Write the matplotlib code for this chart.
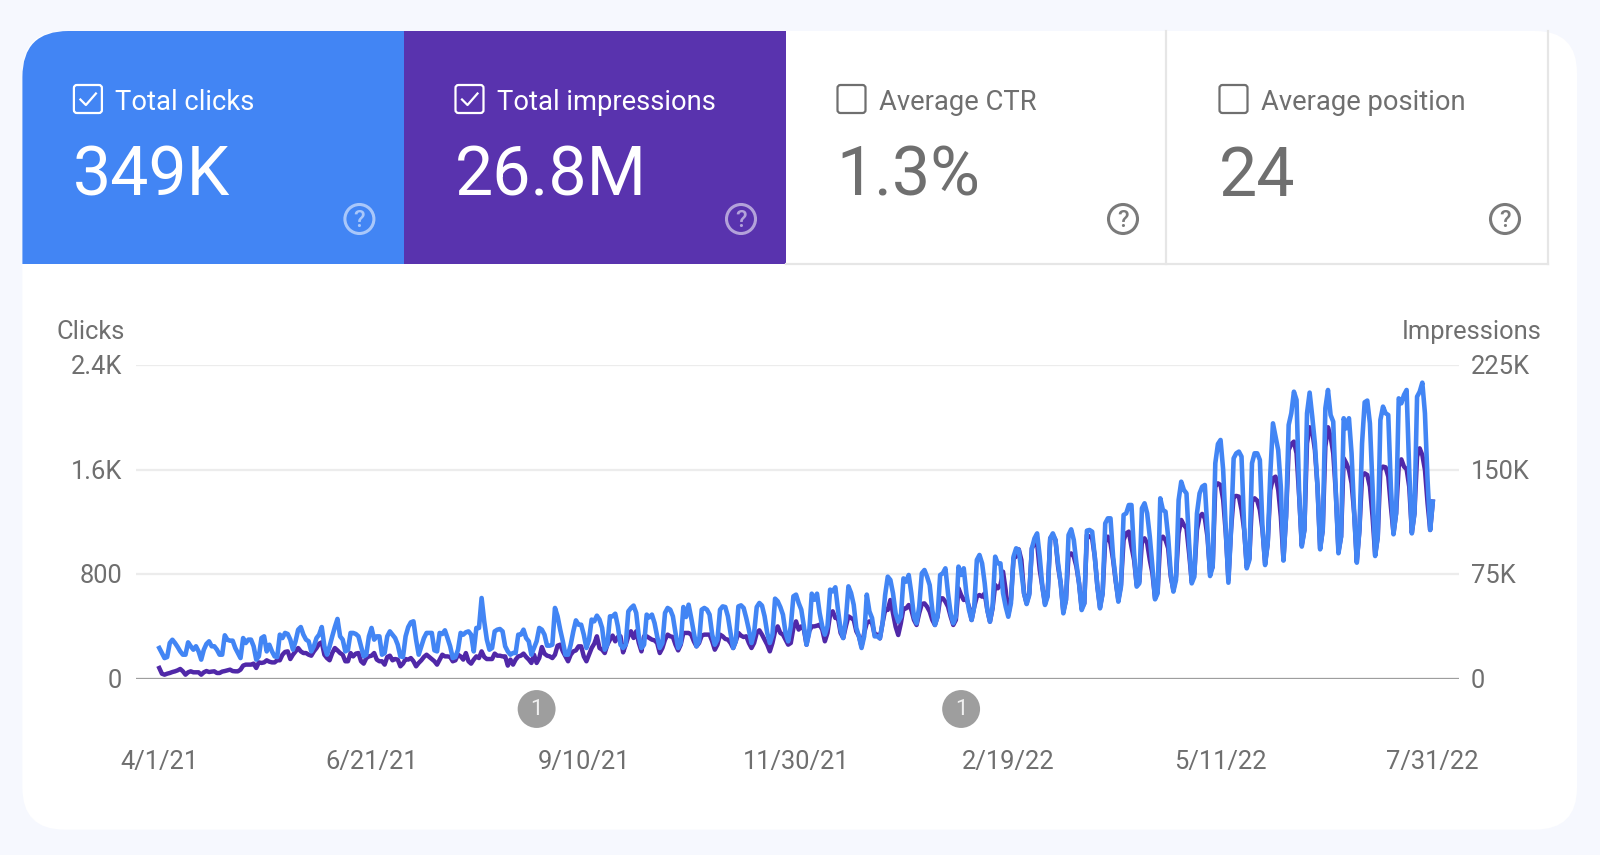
import matplotlib
matplotlib.use('Agg')
import matplotlib.pyplot as plt
import matplotlib.dates as mdates
import pandas as pd
from matplotlib.patches import Circle, FancyBboxPatch, PathPatch, Rectangle
from matplotlib.path import Path

plt.rcParams['font.family'] = ['Roboto', 'DejaVu Sans']

# values, one day each from 4/1/21
clicks = [
    237, 199, 160, 168, 275, 300, 275, 245, 211, 186, 186, 280, 250, 224, 250, 211, 148, 224, 268, 288,
    250, 250, 224, 186, 186, 334, 300, 293, 293, 237, 199, 160, 313, 275, 301, 301, 250, 148, 173, 313,
    326, 211, 262, 211, 173, 168, 339, 313, 352, 344, 301, 224, 288, 377, 397, 339, 301, 288, 211, 250,
    313, 339, 397, 250, 186, 250, 326, 397, 459, 326, 301, 211, 224, 352, 352, 344, 326, 250, 173, 186,
    326, 390, 301, 326, 326, 186, 199, 326, 364, 339, 313, 262, 173, 168, 326, 397, 433, 441, 301, 186,
    250, 313, 352, 352, 352, 219, 211, 352, 344, 372, 313, 250, 160, 168, 224, 352, 339, 357, 364, 339,
    211, 390, 390, 619, 441, 301, 224, 237, 364, 377, 382, 364, 250, 211, 186,
    199, 199, 339, 339, 377, 313, 288,
    186, 237, 288, 390, 377, 339, 255,
    255, 262, 543, 479, 377, 288, 186,
    186, 262, 364, 448, 415, 415, 339,
    237, 301, 454, 441, 484, 454, 390,
    224, 262, 479, 479, 499, 403, 262,
    237, 262, 517, 543, 561, 505, 326,
    237, 262, 492, 471, 492, 428, 326,
    237, 275, 505, 543, 530, 479, 352,
    237, 275, 550, 474, 568, 466, 352,
    250, 288, 530, 543, 530, 492, 339,
    262, 301, 530, 555, 550, 479, 352,
    237, 288, 555, 563, 543, 466, 377,
    275, 352, 550, 581, 561, 479, 352,
    275, 339, 614, 594, 550, 492, 352,
    288, 403, 632, 645, 581, 530, 403,
    262, 352, 652, 606, 652, 505, 403,
    339, 403, 683, 670, 701, 530, 377,
    313, 454, 708, 657, 568, 390, 326,
    237, 326, 645, 517, 466, 326, 326,
    311, 425, 642, 782, 757, 655, 502,
    438, 476, 769, 744, 795, 655, 476,
    425, 553, 808, 833, 782, 718, 527,
    413, 476, 795, 808, 846, 655, 502,
    425, 476, 859, 795, 846, 655, 527,
    451, 553, 910, 948, 884, 731, 527,
    438, 553, 935, 884, 884, 655, 553,
    476, 578, 935, 999, 986, 820, 655,
    573, 642, 999, 1075, 1113, 935, 706,
    566, 629, 1075, 1113, 1062, 884, 731,
    502, 604, 1101, 1144, 1062, 884, 731,
    527, 578, 1134, 1139, 1126, 935, 706,
    540, 655, 1190, 1228, 1228, 935, 757,
    591, 706, 1254, 1266, 1330, 1330, 961,
    706, 731, 1305, 1343, 1266, 1088, 859,
    609, 655, 1381, 1292, 1279, 1088, 808,
    668, 757, 1368, 1508, 1445, 1419, 1037,
    731, 782, 1266, 1419, 1470, 1483, 1139,
    787, 859, 1649, 1796, 1827, 1598, 1139,
    736, 1139, 1687, 1725, 1738, 1700, 1164,
    846, 910, 1649, 1725, 1725, 1674, 1164,
    871, 1037, 1572, 1954, 1852, 1750, 1470,
    905, 1241, 1942, 2031, 2196, 2133, 1419,
    1012, 1139, 2031, 2189, 2005, 1801, 1470,
    991, 1139, 2069, 2209, 2018, 1967, 1419,
    961, 1088, 1993, 1916, 1993, 1725, 1266,
    889, 1139, 1801, 2115, 2128, 1954, 1470,
    940, 1088, 1980, 2082, 2031, 2018, 1470,
    1106, 1266, 2145, 2107, 2171, 2209, 1598,
    1113, 1266, 2158, 2196, 2265, 2031, 1521,
    1139, 1355,
]

impressions_k = [
    7.9, 3.8, 3.1, 3.8, 4.3, 5.0, 5.5, 6.2, 7.2, 5.5, 3.1, 4.8, 5.5, 4.8, 4.8, 4.8, 3.1, 4.8, 5.7, 5.0,
    5.3, 5.5, 4.3, 4.3, 5.3, 5.7, 6.2, 6.7, 5.7, 5.5, 5.5, 6.7, 9.6, 10.3, 10.3, 10.3, 11, 7.9, 11.9, 11.5,
    11.9, 13.4, 12.4, 11.9, 11.9, 13.4, 13.4, 17.4, 19.4, 19.8, 14.3, 17.4, 19.8, 22.2, 19.8, 18.6, 18.6, 17.4, 16.7, 19.8,
    22.2, 25.3, 26.3, 17.4, 15, 13.4, 18.6, 22.2, 20.5, 18.6, 17.4, 12.7, 12.7, 18.6, 16.2, 18.2, 18.6, 12.7, 11, 15,
    16.2, 16.7, 18.6, 13.9, 12.7, 12.7, 10.3, 15.8, 16.7, 13.4, 14.3, 13.9, 9.1, 11, 14.3, 13.9, 15, 12.7, 9.1, 11.5,
    13.4, 15.8, 17.4, 15.8, 14.3, 12.7, 10.3, 13.9, 17.4, 16.2, 16.2, 15.8, 12.7, 13.4, 17.4, 16.2, 13.9, 18.6, 12.7, 11,
    13.9, 16.2, 15, 19.8, 15.8, 14.3, 14.3, 14.3, 18.2, 16.7, 16.7, 16.2, 16.2, 9.6, 13.9,
    10.3, 13.9, 16.2, 16.7, 18.2, 15.8, 13.9,
    11.5, 17.4, 11.5, 15, 22.9, 18.2, 16.7,
    16.2, 15, 17.4, 23.9, 24.6, 19.8, 16.2,
    12.7, 17.4, 19.8, 20.5, 23.4, 23.4, 16.2,
    12.7, 17.4, 22.2, 25.3, 30.6, 22.2, 21,
    18.6, 24.6, 28.2, 31.1, 27, 30.1, 30.6,
    19.1, 24.6, 30.6, 34.2, 29.4, 34.2, 25.8,
    19.8, 30.6, 30.6, 29.4, 28.2, 27.7, 25.8,
    18.6, 22.2, 28.2, 31.8, 30.6, 30.1, 24.6,
    20.5, 24.6, 33, 33, 33, 31.8, 27,
    23.4, 25.8, 31.1, 31.8, 31.8, 31.8, 27,
    21, 24.6, 31.8, 30.6, 28.7, 28.2, 25.8,
    22.2, 27, 33, 31.1, 30.1, 30.6, 25.8,
    22.2, 25.8, 33, 34.9, 31.8, 28.2, 24.6,
    19.8, 25.8, 34.2, 37.7, 33, 31.8, 28.2,
    24.6, 25.8, 36.6, 41.3, 35.4, 37.7, 35.4,
    24.6, 34.2, 37.7, 37.7, 38.2, 38.9, 35.4,
    27, 33, 46.1, 48.5, 43.7, 43.7, 33,
    29.4, 37.7, 44.9, 43.7, 42.5, 34.2, 30.6,
    23.4, 33, 40.1, 41.3, 40.1, 31.8, 31.8,
    29.1, 39.9, 49.5, 49.5, 56.6, 47.1, 37.5,
    31.5, 39.9, 50.6, 50.6, 53, 49.5, 42.3,
    38.7, 47.1, 53.8, 54.2, 51.8, 48.3, 42.3,
    38.7, 44.7, 57.8, 57.8, 55.4, 51.8, 44.7,
    38.7, 42.3, 65, 60.2, 56.6, 57.8, 51.8,
    42.3, 51.8, 59, 60.2, 59, 61.4, 49.5,
    41.1, 50.6, 67.4, 65, 67.4, 76.9, 63.8,
    45.9, 56.6, 86.5, 87.7, 92.9, 85.3, 61.4,
    54.2, 61.4, 93.7, 97.2, 97.2, 78.1, 66.2,
    54.2, 60.2, 100.8, 103.2, 99.6, 80.5, 68.6,
    48.3, 56.6, 88.9, 90, 87.7, 80.5, 68.6,
    50.6, 54.2, 103.2, 102, 100.8, 87.7, 66.2,
    51.8, 61.4, 99.6, 102, 97.2, 85.3, 69.8,
    56.6, 67.4, 99.6, 104.4, 105.6, 94.8, 85.3,
    67.4, 69.8, 98.4, 100.8, 97.2, 85.3, 75.7,
    57.8, 62.6, 99.6, 102, 99.6, 93.7, 73.3,
    63.8, 73.3, 104.4, 114, 110.4, 107.9, 90,
    69.8, 75.7, 106.8, 116.3, 118.3, 115.1, 102,
    75.7, 80.5, 137.8, 140.2, 139, 128.3, 104.4,
    71, 106.8, 130.7, 131.2, 130.7, 121.1, 106.8,
    80.5, 86.5, 127.1, 129.5, 127.8, 121.1, 106.8,
    82.9, 97.2, 135.5, 143.8, 145, 135.5, 116.3,
    85.3, 116.3, 164.1, 168.4, 170.1, 161.7, 130.7,
    96, 106.8, 168.9, 180.4, 177.3, 164.1, 137.8,
    93.7, 106.8, 166.5, 180.4, 173.7, 161.7, 133.1,
    91.3, 102, 158.2, 154.6, 149.8, 140.2, 118.7,
    84.1, 106.8, 145, 147.4, 146.2, 137.8, 116.3,
    88.9, 102, 149.8, 152.2, 151.7, 145, 123.5,
    104.4, 118.7, 152.2, 157.4, 152.2, 150.3, 137.8,
    104.9, 118.7, 159.3, 165.3, 160.5, 149.8, 125.9,
    106.8, 127.1,
]

dates = pd.date_range('2021-04-01', periods=len(clicks))
date_ticks = pd.to_datetime(['2021-04-01', '2021-06-21', '2021-09-10', '2021-11-30',
                             '2022-02-19', '2022-05-11', '2022-07-31'])
date_labels = ['4/1/21', '6/21/21', '9/10/21', '11/30/21', '2/19/22', '5/11/22', '7/31/22']
annotation_dates = pd.to_datetime(['2021-08-23', '2022-02-01'])

clicks_ticks = [0, 800, 1600, 2400]
clicks_labels = ['0', '800', '1.6K', '2.4K']
impressions_ticks = [0, 75, 150, 225]
impressions_labels = ['0', '75K', '150K', '225K']

tile_titles = ['Total clicks', 'Total impressions', 'Average CTR', 'Average position']
tile_values = ['349K', '26.8M', '1.3%', '24']
tile_checked = [True, True, False, False]

BLUE = '#4285f4'
PURPLE = '#5933ae'
GREY = '#6f6f6f'

W, H = 1600, 855
fig = plt.figure(figsize=(W / 100, H / 100), dpi=100, facecolor='#f6f8fe')

# page layer in pixel coordinates
page = fig.add_axes([0, 0, 1, 1])
page.set_xlim(0, W)
page.set_ylim(H, 0)
page.axis('off')

page.add_patch(FancyBboxPatch((22.4, 31), 1554.6, 798.6, boxstyle='round,pad=0,rounding_size=42',
                              fc='white', ec='none'))

tile_x = [22.4, 404, 786, 1168]
tile_top, tile_bottom = 31, 264

# blue tile has the rounded corner of the card
verts = [(22.4, tile_bottom), (22.4, tile_top + 46), (22.4, tile_top), (68.4, tile_top),
         (404, tile_top), (404, tile_bottom), (22.4, tile_bottom)]
codes = [Path.MOVETO, Path.LINETO, Path.CURVE3, Path.CURVE3, Path.LINETO, Path.LINETO, Path.CLOSEPOLY]
page.add_patch(PathPatch(Path(verts, codes), fc=BLUE, ec='none'))
page.add_patch(Rectangle((404, tile_top), 382, tile_bottom - tile_top, fc=PURPLE, ec='none'))

# separators of the white tiles
page.plot([786, 1548], [tile_bottom, tile_bottom], color='#e6e6e6', lw=1.6)
page.plot([1166, 1166], [tile_top, tile_bottom], color='#e6e6e6', lw=1.6)
page.plot([1548, 1548], [tile_top, tile_bottom], color='#e6e6e6', lw=1.6)

for i in range(4):
    x0 = tile_x[i]
    fg = 'white' if tile_checked[i] else GREY
    page.add_patch(FancyBboxPatch((x0 + 51.5, 85), 28, 28, boxstyle='round,pad=0,rounding_size=3',
                                  fc='none', ec=fg, lw=1.6))
    if tile_checked[i]:
        page.plot([x0 + 58, x0 + 63.5, x0 + 73.5], [99.5, 105, 93.5], color=fg, lw=1.6)
    page.text(x0 + 93, 102, tile_titles[i], color=fg, fontsize=19.75, ha='left', va='center')
    page.text(x0 + 50.5, 176.5, tile_values[i], color=fg, fontsize=49, ha='left', va='center')
    help_color = '#ffffff' if tile_checked[i] else '#7a7a7a'
    help_alpha = 0.55 if tile_checked[i] else 1
    page.add_patch(Circle((x0 + 337, 219), 14.5, fc='none', ec=help_color, lw=2.2, alpha=help_alpha))
    page.text(x0 + 337, 220, '?', color=help_color, alpha=help_alpha, fontsize=17, fontweight='medium',
              ha='center', va='center')

page.text(56, 332, 'Clicks', color=GREY, fontsize=18.4, ha='left', va='center')
page.text(1542, 332, 'Impressions', color=GREY, fontsize=18.4, ha='right', va='center')

# chart area, y pixels 365 to 679
left, right, top, bottom = 135.7, 1459, 365, 679
ax2 = fig.add_axes([left / W, 1 - bottom / H, (right - left) / W, (bottom - top) / H])
ax2.patch.set_alpha(0)
ax = ax2.twinx()
ax.patch.set_alpha(0)

ax2.plot(dates, impressions_k, color='#5028a8', lw=3.2, solid_joinstyle='round', zorder=3)
ax.plot(dates, clicks, color=BLUE, lw=3.3, solid_joinstyle='round', zorder=3)

ax2.set_ylim(0, 225)
ax.set_ylim(0, 2400)
ax2.set_xlim(dates[0] - pd.Timedelta(days=9), dates[-1] + pd.Timedelta(days=10))

for a in (ax, ax2):
    for s in a.spines.values():
        s.set_visible(False)
    a.tick_params(length=0)

# ax2 is the lower axes, so it holds the grid and the right hand labels go to the twin
ax2.set_yticks(impressions_ticks)
ax2.set_yticklabels([])
ax2.yaxis.grid(True, color='#ececec', lw=1.6)
ax2.set_axisbelow(True)
ax2.axhline(0, color='#9e9e9e', lw=1.6, zorder=2)

ax.set_yticks(clicks_ticks)
ax.set_yticklabels([])
for v, lab in zip(clicks_ticks, clicks_labels):
    ax.annotate(lab, (0, v), xycoords=('axes fraction', 'data'), xytext=(122 - left, -2),
                textcoords='offset pixels', ha='right', va='center', color=GREY, fontsize=18.4,
                annotation_clip=False)
for v, lab in zip(impressions_ticks, impressions_labels):
    ax2.annotate(lab, (1, v), xycoords=('axes fraction', 'data'), xytext=(1471 - right, -2),
                 textcoords='offset pixels', ha='left', va='center', color=GREY, fontsize=18.4,
                 annotation_clip=False)

ax2.set_xticks(date_ticks)
ax2.set_xticklabels(date_labels, color=GREY, fontsize=18.4)
ax2.tick_params(axis='x', pad=(762 - 679 - 12) * 0.72)
ax2.xaxis.set_major_formatter(plt.FixedFormatter(date_labels))

for d in annotation_dates:
    ax2.annotate('1', (mdates.date2num(d), 0), xycoords=('data', 'axes fraction'), xytext=(0, -30),
                 textcoords='offset pixels', ha='center', va='center', color='#f0f0f0', fontsize=16,
                 bbox=dict(boxstyle='circle,pad=0.38', fc='#9e9e9e', ec='none'), annotation_clip=False)

fig.savefig('out.png', dpi=100, facecolor=fig.get_facecolor())
